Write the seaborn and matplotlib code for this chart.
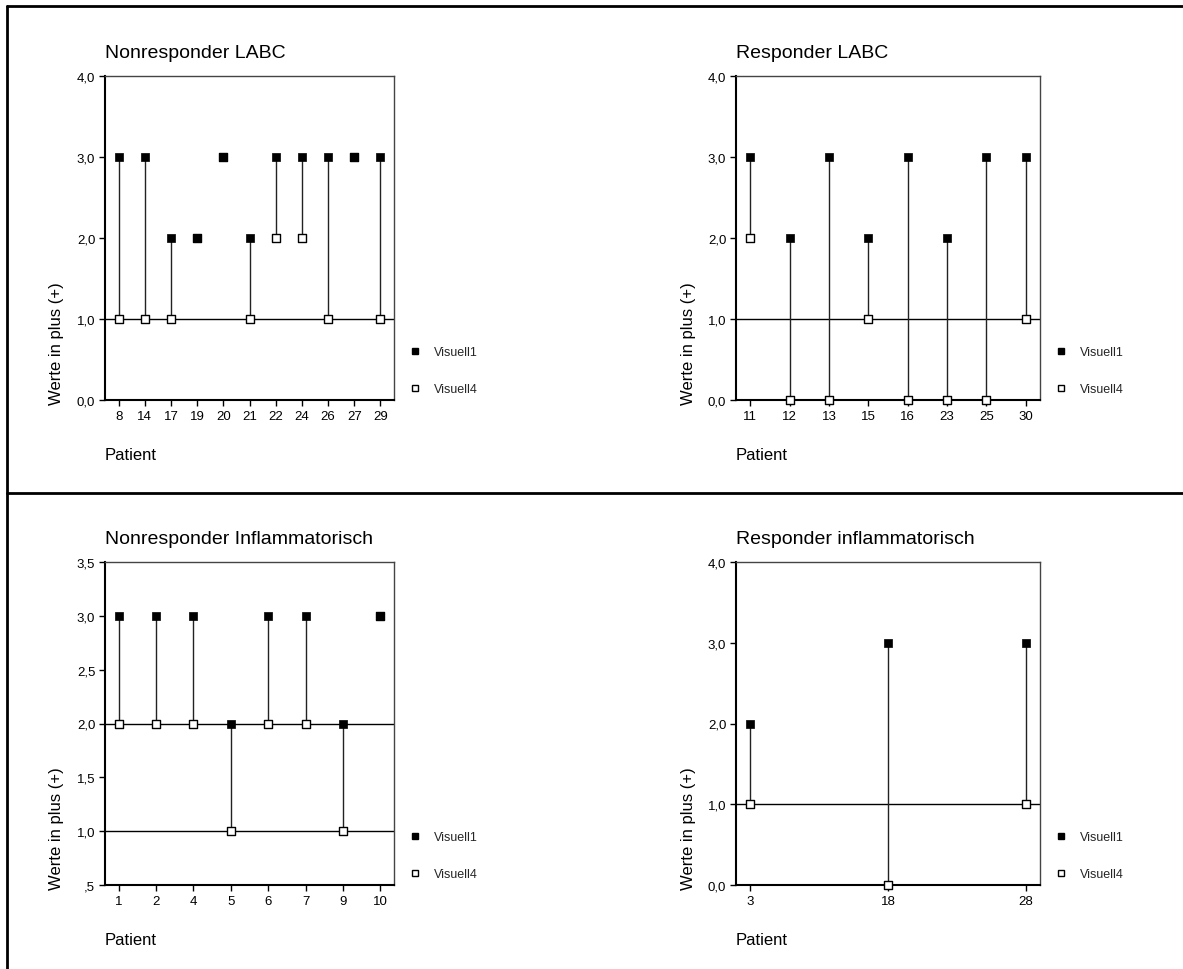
import matplotlib
matplotlib.use("Agg")
import matplotlib.pyplot as plt
from matplotlib.lines import Line2D
import seaborn as sns
import pandas as pd

sns.set_theme(style="white")
plt.rcParams['font.family'] = ['Liberation Sans', 'DejaVu Sans']

# ---- data ----
titles = ["Nonresponder LABC", "Responder LABC",
          "Nonresponder Inflammatorisch", "Responder inflammatorisch"]

p1_patients = ["8", "14", "17", "19", "20", "21", "22", "24", "26", "27", "29"]
p1_visuell1 = [3, 3, 2, 2, 3, 2, 3, 3, 3, 3, 3]
p1_visuell4 = [1, 1, 1, 2, 3, 1, 2, 2, 1, 3, 1]

p2_patients = ["11", "12", "13", "15", "16", "23", "25", "30"]
p2_visuell1 = [3, 2, 3, 2, 3, 2, 3, 3]
p2_visuell4 = [2, 0, 0, 1, 0, 0, 0, 1]

p3_patients = ["1", "2", "4", "5", "6", "7", "9", "10"]
p3_visuell1 = [3, 3, 3, 2, 3, 3, 2, 3]
p3_visuell4 = [2, 2, 2, 1, 2, 2, 1, 3]

p4_patients = ["3", "18", "28"]
p4_visuell1 = [2, 3, 3]
p4_visuell4 = [1, 0, 1]

yticks_a = [0.0, 1.0, 2.0, 3.0, 4.0]
yticklabels_a = ["0,0", "1,0", "2,0", "3,0", "4,0"]
yticks_b = [0.5, 1.0, 1.5, 2.0, 2.5, 3.0, 3.5]
yticklabels_b = [",5", "1,0", "1,5", "2,0", "2,5", "3,0", "3,5"]

reflines = [[1.0], [1.0], [1.0, 2.0], [1.0]]

panels = [
    (p1_patients, p1_visuell1, p1_visuell4, yticks_a, yticklabels_a),
    (p2_patients, p2_visuell1, p2_visuell4, yticks_a, yticklabels_a),
    (p3_patients, p3_visuell1, p3_visuell4, yticks_b, yticklabels_b),
    (p4_patients, p4_visuell1, p4_visuell4, yticks_a, yticklabels_a),
]

W, H = 1183, 970
fig = plt.figure(figsize=(W / 100, H / 100), dpi=100)

# axes rectangles in pixels: left, right, top, bottom
rects_px = [(105, 394, 77, 401), (736, 1040, 77, 401),
            (105, 394, 563, 886), (736, 1040, 563, 886)]

for i, (pats, v1, v4, yt, ytl) in enumerate(panels):
    l, r, t, b = rects_px[i]
    ax = fig.add_axes([l / W, 1 - b / H, (r - l) / W, (b - t) / H])
    df = pd.DataFrame({"Patient": pats, "Visuell1": v1, "Visuell4": v4})

    # stems
    ax.vlines(df["Patient"], df["Visuell4"], df["Visuell1"],
              colors="#222222", linewidth=1.0, zorder=2)
    for y in reflines[i]:
        ax.axhline(y, color="black", linewidth=1.0, zorder=1)

    sns.scatterplot(data=df, x="Patient", y="Visuell4", ax=ax, marker="s",
                    s=26, facecolor="white", edgecolor="black", linewidth=1.0,
                    zorder=3, clip_on=False)
    sns.scatterplot(data=df, x="Patient", y="Visuell1", ax=ax, marker="s",
                    s=26, color="black", edgecolor="black", linewidth=0.5,
                    zorder=4, clip_on=False)

    n = len(pats)
    pad = 0.052 * (n - 1) if n > 1 else 0.5
    ax.set_xlim(-pad, n - 1 + pad)
    ax.set_ylim(yt[0], yt[-1])
    ax.set_yticks(yt)
    ax.set_yticklabels(ytl)

    ax.tick_params(axis="both", which="both", direction="out", length=4,
                   width=1, color="black", labelsize=9.5, pad=3,
                   left=True, bottom=True, labelcolor="black")
    for s in ["left", "bottom"]:
        ax.spines[s].set_linewidth(1.5)
        ax.spines[s].set_color("black")
    for s in ["top", "right"]:
        ax.spines[s].set_linewidth(1.0)
        ax.spines[s].set_color("#444444")

    ax.set_title(titles[i], loc="left", fontsize=14, pad=14, color="black")

    ax.set_xlabel("Patient", fontsize=12, color="black")
    ax.xaxis.label.set_ha("left")
    ax.xaxis.label.set_va("baseline")
    ax.xaxis.set_label_coords(0.0, -59 / (b - t))

    ax.set_ylabel("Werte in plus (+)", fontsize=12, color="black")
    ax.yaxis.label.set_ha("left")
    ax.yaxis.label.set_va("center")
    ax.yaxis.set_label_coords(-48 / (r - l), -4 / (b - t))

    handles = [
        Line2D([], [], linestyle="none", marker="s", markersize=5,
               markerfacecolor="black", markeredgecolor="black"),
        Line2D([], [], linestyle="none", marker="s", markersize=5,
               markerfacecolor="white", markeredgecolor="black",
               markeredgewidth=1.0),
    ]
    ax.legend(handles, ["Visuell1", "Visuell4"], loc="center left",
              bbox_to_anchor=(1 + 15 / (r - l), 29 / (b - t)),
              frameon=False, fontsize=9, handlelength=1.0,
              handletextpad=1.0, borderpad=0, borderaxespad=0,
              labelspacing=2.0)

# frame lines
fig.add_artist(Line2D([7 / W, 7 / W], [1 - 7 / H, 0], transform=fig.transFigure,
                      color="black", linewidth=2))
fig.add_artist(Line2D([7 / W, 1], [1 - 7 / H, 1 - 7 / H], transform=fig.transFigure,
                      color="black", linewidth=2))
fig.add_artist(Line2D([7 / W, 1], [1 - 494 / H, 1 - 494 / H],
                      transform=fig.transFigure, color="black", linewidth=2))

fig.savefig("out.png", dpi=100, facecolor="white")
